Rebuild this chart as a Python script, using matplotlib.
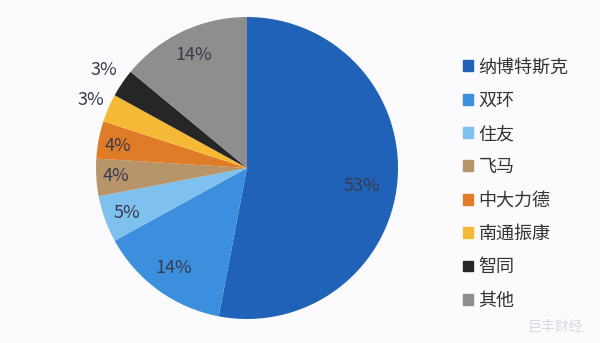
import matplotlib
matplotlib.use("Agg")
import matplotlib.pyplot as plt
import numpy as np

plt.rcParams['font.family'] = ['Noto Sans CJK SC', 'DejaVu Sans']

categories = ["纳博特斯克", "双环", "住友", "飞马", "中大力德", "南通振康", "智同", "其他"]
shares = [53, 14, 5, 4, 4, 3, 3, 14]
colors = ["#1f62b8", "#3b8fdc", "#7fc1ee", "#b8946a", "#e07c27", "#f5b936", "#262626", "#8e8e8e"]
label_dist = [0.77, 0.82, 0.85, 0.87, 0.87, 1.13, 1.15, 0.83]
label_rot = [-3.5, 0, 0.5, 0, 1, 0, 0, 0]

fig = plt.figure(figsize=(6, 3.43), dpi=100, facecolor="#fbfbfd")
ax = fig.add_axes([96/600, 1 - 319/343, 302/600, 302/343])
ax.set_facecolor("#fbfbfd")

wedges, _ = ax.pie(shares, colors=colors, startangle=90, counterclock=False,
                   wedgeprops=dict(linewidth=0))
ax.set_xlim(-1, 1)
ax.set_ylim(-1, 1)
ax.set_aspect('equal')

for w, v, d, r in zip(wedges, shares, label_dist, label_rot):
    ang = np.deg2rad((w.theta1 + w.theta2) / 2 + r)
    ax.text(d * np.cos(ang), d * np.sin(ang), f"{v}%", ha='center', va='center',
            fontsize=13, color="#3a3a4e", fontweight='light')

handles = [plt.Rectangle((0, 0), 1, 1, color=c) for c in colors]
fig.legend(handles, categories, loc='upper left', bbox_to_anchor=(447/600, 1 - 42/343),
           frameon=False, fontsize=13, handlelength=0.55, handleheight=0.55,
           handletextpad=0.3, labelspacing=0.85, labelcolor="#333333")

fig.text(555/600, 1 - 327/343, "巨丰财经", ha='center', va='center', fontsize=10,
         color="#d8d8de")

fig.savefig("out.png", dpi=100, facecolor=fig.get_facecolor())
